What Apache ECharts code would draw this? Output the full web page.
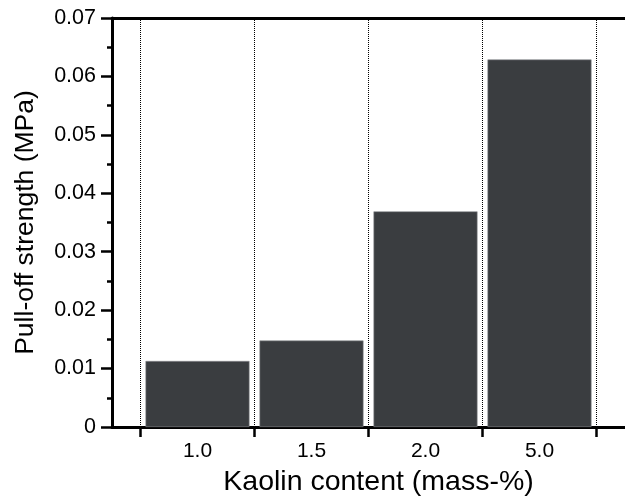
<!DOCTYPE html>
<html>
<head>
<meta charset="utf-8">
<script src="https://cdn.jsdelivr.net/npm/echarts@6/dist/echarts.min.js"></script>
<style>
  html, body { margin: 0; padding: 0; background: #fff; }
  #chart { width: 625px; height: 502px; }
</style>
</head>
<body>
<div id="chart"></div>
<script>
const categories = ["1.0", "1.5", "2.0", "5.0"];
const strength = [0.0113, 0.0148, 0.0369, 0.0629];
const boundaries = [-0.5, 0.5, 1.5, 2.5, 3.5];

const font = "Liberation Sans, Arial, Helvetica, sans-serif";
const chart = echarts.init(document.getElementById("chart"));

const option = {
    backgroundColor: "#fff",
    animation: false,
    grid: { left: 112, right: -8, top: 18, bottom: 75 },
    xAxis: [
        {
            type: "value",
            min: -0.75,
            max: 3.75,
            name: "Kaolin content (mass-%)",
            nameLocation: "middle",
            nameGap: 41,
            nameTextStyle: { fontFamily: font, fontSize: 28.5, color: "#000", padding: [0, 0, 0, 20] },
            axisLine: { show: true, onZero: false, lineStyle: { color: "#000", width: 3 } },
            axisTick: {
                show: true,
                inside: false,
                length: 10,
                customValues: boundaries,
                lineStyle: { color: "#000", width: 2.5 }
            },
            axisLabel: {
                customValues: categories.map((_, i) => i),
                formatter: v => categories[Math.round(v)],
                margin: 14,
                fontFamily: font,
                fontSize: 21,
                color: "#000"
            },
            splitLine: {
                show: true,
                lineStyle: { color: "#000", type: [1, 1], width: 1 }
            }
        },
        {
            type: "value",
            position: "top",
            min: -0.75,
            max: 3.75,
            axisLine: { show: true, onZero: false, lineStyle: { color: "#000", width: 3 } },
            axisTick: { show: false },
            axisLabel: { show: false },
            splitLine: { show: false }
        }
    ],
    yAxis: {
        type: "value",
        min: 0,
        max: 0.07,
        interval: 0.01,
        name: "Pull-off strength (MPa)",
        nameLocation: "middle",
        nameGap: 73,
        nameTextStyle: { fontFamily: font, fontSize: 26.5, color: "#000" },
        axisLine: { show: true, onZero: false, lineStyle: { color: "#000", width: 3 } },
        axisTick: { show: true, length: 11, lineStyle: { color: "#000", width: 2.5 } },
        minorTick: { show: true, splitNumber: 2, length: 5, lineStyle: { color: "#000", width: 2.5 } },
        axisLabel: {
            margin: 16,
            fontFamily: font,
            fontSize: 21.5,
            color: "#000",
            formatter: v => (v === 0 ? "0" : v.toFixed(2))
        },
        splitLine: { show: false }
    },
    series: [
        {
            type: "bar",
            xAxisIndex: 0,
            barWidth: 104,
            data: strength.map((v, i) => [i, v]),
            itemStyle: { color: "#3a3d40", borderColor: "#8a8c8e", borderWidth: 0.6 }
        }
    ]
};

chart.setOption(option);
</script>
</body>
</html>
